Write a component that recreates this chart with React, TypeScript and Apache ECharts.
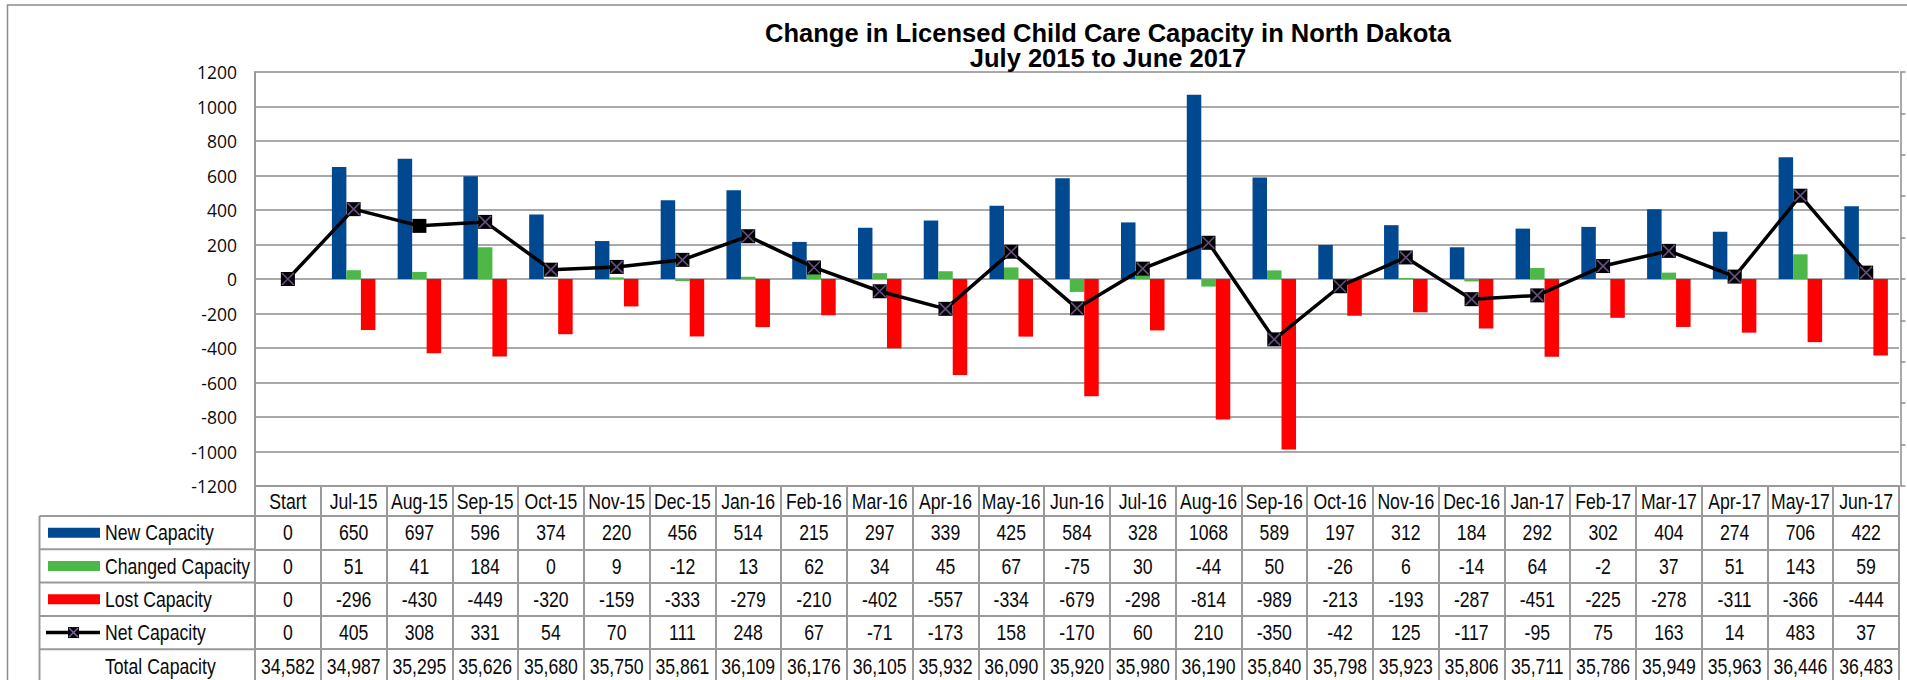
import React, { useEffect, useRef } from "react";
import * as echarts from "echarts";

const categories = ["Start", "Jul-15", "Aug-15", "Sep-15", "Oct-15", "Nov-15", "Dec-15", "Jan-16", "Feb-16", "Mar-16", "Apr-16", "May-16", "Jun-16", "Jul-16", "Aug-16", "Sep-16", "Oct-16", "Nov-16", "Dec-16", "Jan-17", "Feb-17", "Mar-17", "Apr-17", "May-17", "Jun-17"];
const newCapacity = [0, 650, 697, 596, 374, 220, 456, 514, 215, 297, 339, 425, 584, 328, 1068, 589, 197, 312, 184, 292, 302, 404, 274, 706, 422];
const changedCapacity = [0, 51, 41, 184, 0, 9, -12, 13, 62, 34, 45, 67, -75, 30, -44, 50, -26, 6, -14, 64, -2, 37, 51, 143, 59];
const lostCapacity = [0, -296, -430, -449, -320, -159, -333, -279, -210, -402, -557, -334, -679, -298, -814, -989, -213, -193, -287, -451, -225, -278, -311, -366, -444];
const netCapacity = [0, 405, 308, 331, 54, 70, 111, 248, 67, -71, -173, 158, -170, 60, 210, -350, -42, 125, -117, -95, 75, 163, 14, 483, 37];
const totalCapacity = ["34,582", "34,987", "35,295", "35,626", "35,680", "35,750", "35,861", "36,109", "36,176", "36,105", "35,932", "36,090", "35,920", "35,980", "36,190", "35,840", "35,798", "35,923", "35,806", "35,711", "35,786", "35,949", "35,963", "36,446", "36,483"];
const plainMarkerMonths = ["Aug-15"];
const yTicks = { min: -1200, max: 1200, interval: 200 };

const seriesNames = ["New Capacity", "Changed Capacity", "Lost Capacity", "Net Capacity"];
const totalRowName = "Total Capacity";

const W = 1907;
const H = 680;
const GRID = { left: 255, right: 8, top: 72, bottom: 194 };
const HEADER_H = 30;
const ROW_H = 33.3;
const TABLE_FONT = "'Liberation Sans', Arial, sans-serif";
const TABLE_FONT_SIZE = 21.5;
const NARROW = 0.82;
const TICK_FONT = "'Open Sans', 'DejaVu Sans', sans-serif";
const GRIDLINE = "#8c8c8c";
const TABLE_LINE = "#9a9a9a";
const TEXT = "#0a0a0a";
const COLORS = { blue: "#00488f", green: "#4db848", red: "#ff0000", purple: "#8064a2" };

export default function App() {
  const ref = useRef<HTMLDivElement>(null);

  useEffect(() => {
    if (!ref.current) return;
    const chart = echarts.init(ref.current, undefined, { renderer: "svg" });
    const plotBottom = H - GRID.bottom;
    const tableTop = plotBottom + HEADER_H;

    const rows: (string | number)[][] = [newCapacity, changedCapacity, lostCapacity, netCapacity, totalCapacity];

    const axisBase = {
      type: "category",
      data: categories,
      position: "bottom",
      boundaryGap: true,
      axisLine: { show: true, onZero: false, lineStyle: { color: TABLE_LINE, width: 2 } },
      axisLabel: { show: false },
      splitLine: { show: false },
    };

    const xAxes: any[] = [
      {
        ...axisBase,
        offset: 0,
        axisTick: { show: true, interval: 0, length: HEADER_H, lineStyle: { color: TABLE_LINE, width: 2 } },
      },
    ];
    rows.forEach((_row, k) => {
      xAxes.push({
        ...axisBase,
        offset: HEADER_H + ROW_H * k,
        axisTick: { show: true, interval: 0, length: ROW_H, lineStyle: { color: TABLE_LINE, width: 2 } },
      });
    });

    const barCommon = { type: "bar", barWidth: 14.5, barGap: "0%", xAxisIndex: 0, yAxisIndex: 0 };

    chart.setOption({
      animation: false,
      backgroundColor: "#ffffff",
      title: {
        text: "Change in Licensed Child Care Capacity in North Dakota\nJuly 2015 to June 2017",
        left: 1103,
        top: 15.5,
        textAlign: "center",
        textStyle: {
          fontSize: 25.5,
          fontWeight: "bold",
          fontFamily: "'Liberation Sans', Arial, sans-serif",
          color: "#000",
          lineHeight: 25,
        },
      },
      grid: { left: GRID.left, right: GRID.right, top: GRID.top, bottom: GRID.bottom, containLabel: false },
      xAxis: xAxes,
      yAxis: [
        {
          type: "value",
          min: yTicks.min,
          max: yTicks.max,
          interval: yTicks.interval,
          axisLine: { show: true, lineStyle: { color: TABLE_LINE, width: 2 } },
          axisTick: { show: false },
          splitLine: { show: true, lineStyle: { color: GRIDLINE, width: 1.5 } },
          axisLabel: { margin: 18, fontSize: 17.5, fontFamily: TICK_FONT, color: TEXT, formatter: (v: number) => String(v) },
        },
        {
          type: "value",
          position: "right",
          min: 0,
          max: 10,
          interval: 1,
          offset: 1.5,
          axisLine: { show: true, lineStyle: { color: GRIDLINE, width: 1.5 } },
          axisTick: { show: true, length: 5, lineStyle: { color: GRIDLINE, width: 1.5 } },
          axisLabel: { show: false },
          splitLine: { show: false },
        },
      ],
      series: [
        { ...barCommon, name: seriesNames[0], data: newCapacity, itemStyle: { color: COLORS.blue } },
        { ...barCommon, name: seriesNames[1], data: changedCapacity, itemStyle: { color: COLORS.green } },
        { ...barCommon, name: seriesNames[2], data: lostCapacity, itemStyle: { color: COLORS.red } },
        {
          type: "line",
          name: seriesNames[3],
          data: netCapacity,
          z: 5,
          symbol: "rect",
          symbolSize: 14,
          showSymbol: true,
          lineStyle: { color: "#000", width: 3.5 },
          itemStyle: { color: "#000" },
        },
        {
          type: "scatter",
          name: "Net Capacity marker",
          data: netCapacity.map((v, i) => (plainMarkerMonths.includes(categories[i]) ? "-" : v)),
          z: 6,
          symbol: "path://M0 0L10 10M10 0L0 10",
          symbolSize: 12,
          itemStyle: { color: "none", borderColor: COLORS.purple, borderWidth: 1.6 },
        },
      ],
    });

    // Table texts and legend column, positioned via the category axis scale.
    const graphics: any[] = [];
    graphics.push({
      type: "rect",
      silent: true,
      z: -10,
      shape: { x: 7.5, y: 5, width: 2400, height: 1000 },
      style: { fill: "none", stroke: GRIDLINE, lineWidth: 1.5 },
    });
    const legendLeft = 39.5;
    for (let k = 0; k < 5; k++) {
      const y = tableTop + ROW_H * k;
      graphics.push({
        type: "line",
        silent: true,
        shape: { x1: legendLeft, y1: y, x2: GRID.left, y2: y },
        style: { stroke: TABLE_LINE, lineWidth: 2 },
      });
    }
    graphics.push({
      type: "line",
      silent: true,
      shape: { x1: legendLeft, y1: tableTop, x2: legendLeft, y2: H + 10 },
      style: { stroke: TABLE_LINE, lineWidth: 2 },
    });

    const cellText = (text: string, x: number, y: number, align: string) => ({
      type: "text",
      silent: true,
      x,
      y,
      scaleX: NARROW,
      style: { text, fontSize: TABLE_FONT_SIZE, fontFamily: TABLE_FONT, fill: TEXT, verticalAlign: "middle", align },
    });

    const centers = categories.map((c) => chart.convertToPixel({ xAxisIndex: 0 }, c) as number);
    categories.forEach((c, i) => {
      graphics.push(cellText(c, centers[i], plotBottom + HEADER_H / 2, "center"));
      rows.forEach((row, k) => {
        graphics.push(cellText(String(row[i]), centers[i], tableTop + ROW_H * k + ROW_H / 2, "center"));
      });
    });

    const swatchColors = [COLORS.blue, COLORS.green, COLORS.red];
    const labels = [...seriesNames, totalRowName];
    labels.forEach((name, k) => {
      const cy = tableTop + ROW_H * k + ROW_H / 2;
      if (k < 3) {
        graphics.push({
          type: "rect",
          silent: true,
          shape: { x: 48, y: cy - 5, width: 52, height: 10 },
          style: { fill: swatchColors[k] },
        });
      } else if (k === 3) {
        graphics.push({
          type: "line",
          silent: true,
          shape: { x1: 46, y1: cy, x2: 100, y2: cy },
          style: { stroke: "#000", lineWidth: 3.5 },
        });
        graphics.push({
          type: "rect",
          silent: true,
          shape: { x: 68, y: cy - 5.5, width: 11, height: 11 },
          style: { fill: "#000" },
        });
        graphics.push({
          type: "polyline",
          silent: true,
          shape: { points: [[69, cy - 4.5], [78, cy + 4.5]] },
          style: { stroke: COLORS.purple, lineWidth: 1.5, fill: "none" },
        });
        graphics.push({
          type: "polyline",
          silent: true,
          shape: { points: [[78, cy - 4.5], [69, cy + 4.5]] },
          style: { stroke: COLORS.purple, lineWidth: 1.5, fill: "none" },
        });
      }
      graphics.push(cellText(name, 105, cy, "left"));
    });

    chart.setOption({ graphic: graphics });

    return () => chart.dispose();
  }, []);

  return (
    <div
      ref={ref}
      style={{ position: "fixed", left: 0, top: 0, width: W, height: H, background: "#fff" }}
    />
  );
}
